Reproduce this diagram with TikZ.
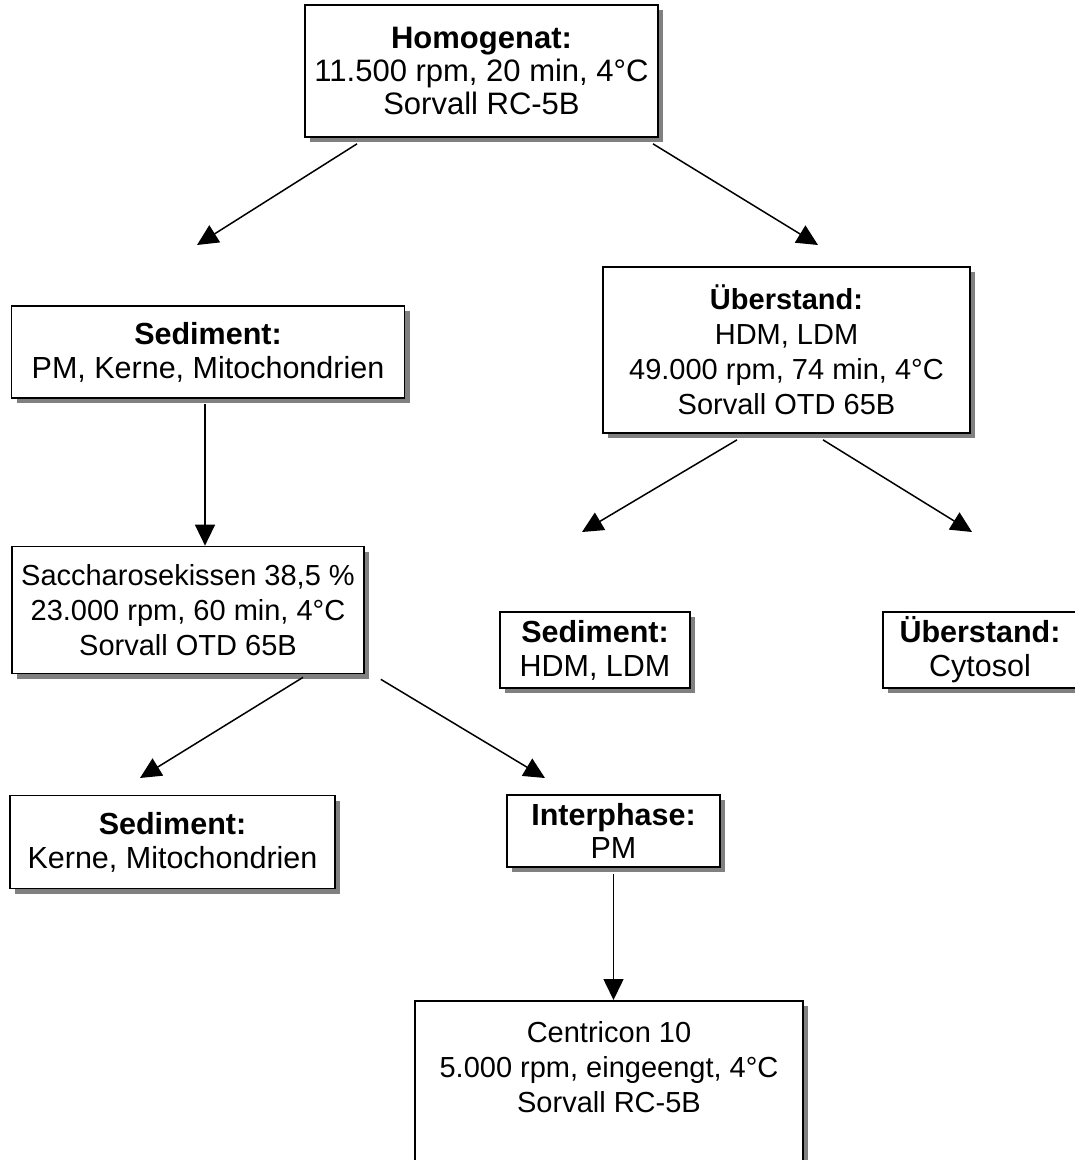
\documentclass[tikz,border=0pt]{standalone}
\usepackage{fontspec}
\setmainfont{Liberation Sans}
\usetikzlibrary{arrows.meta,shadows}

\begin{document}
\begin{tikzpicture}[x=1pt,y=-1pt,>={Triangle[length=21pt,width=20pt]},
    box/.style={draw,line width=1.7pt,fill=white,align=center,inner sep=0pt,
        font=\fontsize{29}{35}\selectfont,
        drop shadow={shadow xshift=5pt,shadow yshift=-5pt,opacity=1,fill=black!50}},
    small/.style={font=\fontsize{30.5}{34}\selectfont},
    arr/.style={->,line width=1.5pt}]
\useasboundingbox (0,0) rectangle (1075,1160);
\node[box,font=\fontsize{31}{33}\selectfont,minimum width=353,minimum height=132] (hom) at (481.5,71)
    {\textbf{Homogenat:}\\11.500 rpm, 20 min, 4°C\\Sorvall RC-5B};
\node[box,small,minimum width=393,minimum height=92] (sed1) at (208,352)
    {\textbf{Sediment:}\\PM, Kerne, Mitochondrien};
\node[box,minimum width=367,minimum height=166] (ueb1) at (786.5,350)
    {\textbf{Überstand:}\\HDM, LDM\\49.000 rpm, 74 min, 4°C\\Sorvall OTD 65B};
\node[box,minimum width=352,minimum height=127] (sacch) at (188,610)
    {Saccharosekissen 38,5 \%\\23.000 rpm, 60 min, 4°C\\Sorvall OTD 65B};
\node[box,small,minimum width=190,minimum height=76] (sedhdm) at (595,650)
    {\textbf{Sediment:}\\HDM, LDM};
\node[box,small,minimum width=194,minimum height=76] (cyto) at (980,650)
    {\textbf{Überstand:}\\Cytosol};
\node[box,small,minimum width=325,minimum height=93] (sedk) at (172.5,842)
    {\textbf{Sediment:}\\Kerne, Mitochondrien};
\node[box,font=\fontsize{30.5}{32.5}\selectfont,minimum width=213,minimum height=72] (inter) at (613.5,831)
    {\textbf{Interphase:}\\PM};
\node[box,minimum width=388,minimum height=200,anchor=north] (centr) at (609,1000) {};
\node[align=center,inner sep=0pt,font=\fontsize{29}{35}\selectfont] (centrtxt) at (609,1067)
    {Centricon 10\\5.000 rpm, eingeengt, 4°C\\Sorvall RC-5B};

\coordinate (tsed1) at (197,245);
\coordinate (tueb1) at (818,245);
\coordinate (thdm) at (582,532);
\coordinate (tcyto) at (972,532);
\coordinate (tsedk) at (140,778);
\coordinate (tinter) at (545,778);

\draw[arr] ([xshift=-124.5pt,yshift=-6pt]hom.south)--(tsed1);
\draw[arr] ([xshift=171.5pt,yshift=-6pt]hom.south)--(tueb1);
\draw[arr] ([xshift=-3pt,yshift=-5pt]sed1.south)--([xshift=-3pt]sed1.south |- sacch.north);
\draw[arr] ([xshift=-49.5pt,yshift=-6pt]ueb1.south)--(thdm);
\draw[arr] ([xshift=36.5pt,yshift=-6pt]ueb1.south)--(tcyto);
\draw[arr] ([xshift=115pt,yshift=-3pt]sacch.south)--(tsedk);
\draw[arr] ([xshift=16pt,yshift=-5pt]sacch.south east)--(tinter);
\draw[arr] ([yshift=-6pt]inter.south)--(inter.south |- centr.north);
\end{tikzpicture}
\end{document}
